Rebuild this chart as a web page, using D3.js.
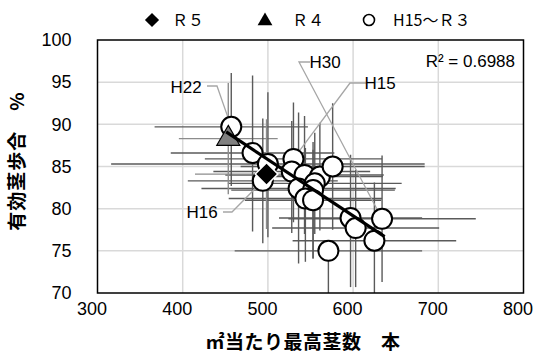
<!DOCTYPE html>
<html><head><meta charset="utf-8">
<script src="https://cdn.jsdelivr.net/npm/d3@7"></script>
<style>body{margin:0;background:#fff}svg{display:block}</style>
</head><body><svg id="c" width="535" height="356"></svg>
<script>
// ---- data ----
const years = ["H15","H16","H17","H18","H19","H20","H21","H22","H23","H24","H25","H26","H27","H28","H29","H30","R1","R2","R3"];
const stems = [530,494,482,528,543,536,561,457,555,553,544,553,576,597,603,634,625,571,500];
const ratio = [85.9,83.3,86.6,84.4,84.0,82.4,83.8,89.7,83.0,82.2,81.2,81.0,85.0,78.9,77.7,78.8,76.2,75.0,85.3];
const stemErrMinus = [104,88,96,92,93,114,74,90,102,96,90,80,108,84,98,110,96,110,184];
const stemErrPlus  = [104,88,96,92,93,114,74,90,102,96,90,80,108,84,98,110,96,110,184];
const ratioErrMinus = [7.5,7.4,9.3,7.3,7,8.9,6.4,7,6,8.1,7.5,6.9,7.5,8.2,7,7.5,6.9,6,8.7];
const ratioErrPlus  = [6.7,7.4,9.2,6,7,9,6.4,6.4,6,5.7,6,6,7.5,7.5,6.9,7.5,6.9,0,8.5];
const r4 = {stem:453.5, ratio:88.3, sm:58, sp:58, rm:6.6, rp:6.6};
const r5 = {stem:498.4, ratio:84.1, sm:84, sp:84, rm:6.5, rp:6.5};
const labeled = ["H22","H30","H15","H16"];
const xTicks = [300,400,500,600,700,800];
const yTicks = [70,75,80,85,90,95,100];
const trendSlope = -0.0668, trendIntercept = 119.23, trendRange = [451,637];
const r2Text = "R² = 0.6988";

// ---- layout ----
const svg = d3.select("#c");
const L=97.5, R=523.5, T=40, B=293;
const x = d3.scaleLinear().domain([300,800]).range([L,R]);
const y = d3.scaleLinear().domain([70,100]).range([B,T]);

// gridlines
const g = svg.append("g");
g.selectAll(".vg").data(xTicks.slice(1,-1)).enter().append("line")
  .attr("x1",d=>x(d)).attr("x2",d=>x(d)).attr("y1",T).attr("y2",B)
  .attr("stroke","#d9d9d9").attr("stroke-width",1.5);
g.selectAll(".hg").data(yTicks.slice(1,-1)).enter().append("line")
  .attr("y1",d=>y(d)).attr("y2",d=>y(d)).attr("x1",L).attr("x2",R)
  .attr("stroke","#d9d9d9").attr("stroke-width",1.5);

// axes labels via d3 axes
const xAxis = svg.append("g").attr("transform",`translate(-6,${B})`)
  .call(d3.axisBottom(x).tickValues(xTicks).tickSize(0).tickPadding(9));
xAxis.select(".domain").remove();
xAxis.selectAll("text").attr("font-family","'Liberation Sans', Arial, sans-serif").attr("font-size",18).attr("fill","#000");
const yAxis = svg.append("g").attr("transform",`translate(${L-26},0)`)
  .call(d3.axisLeft(y).tickValues(yTicks).tickSize(0).tickPadding(0));
yAxis.select(".domain").remove();
yAxis.selectAll("text").attr("font-family","'Liberation Sans', Arial, sans-serif").attr("font-size",18).attr("fill","#000");

// clip for error bars
svg.append("clipPath").attr("id","pc").append("rect").attr("x",L).attr("y",T).attr("width",R-L).attr("height",B-T);
const eb = svg.append("g").attr("clip-path","url(#pc)");
const pts = years.map((yr,i)=>({yr, sx:stems[i], ry:ratio[i], sm:stemErrMinus[i], sp:stemErrPlus[i], rm:ratioErrMinus[i], rp:ratioErrPlus[i]}));
const allPts = pts.concat([{yr:"R4",sx:r4.stem,ry:r4.ratio,sm:r4.sm,sp:r4.sp,rm:r4.rm,rp:r4.rp},{yr:"R5",sx:r5.stem,ry:r5.ratio,sm:r5.sm,sp:r5.sp,rm:r5.rm,rp:r5.rp}]);
const ebColor = d=>(d.yr==="R4"||d.yr==="R5")?"#8c8c8c":"#5a5a5a";
eb.selectAll(".eh").data(allPts).enter().append("line")
  .attr("x1",d=>x(d.sx-d.sm)).attr("x2",d=>x(d.sx+d.sp)).attr("y1",d=>y(d.ry)).attr("y2",d=>y(d.ry))
  .attr("stroke",ebColor).attr("stroke-width",1.4);
eb.selectAll(".ev").data(allPts).enter().append("line")
  .attr("x1",d=>x(d.sx)).attr("x2",d=>x(d.sx)).attr("y1",d=>y(d.ry-d.rm)).attr("y2",d=>y(d.ry+d.rp))
  .attr("stroke",ebColor).attr("stroke-width",1.4);

// leader lines for labels
const byYr = Object.fromEntries(pts.map(p=>[p.yr,p]));
const labelPos = {
  H22:{tx:186,ty:87,path:[[207,86],[217,86]]},
  H30:{tx:325,ty:62,path:[[310,62],[299,62]]},
  H15:{tx:380,ty:83,path:[[366,83],[350,83]]},
  H16:{tx:202,ty:212,path:[[223,212],[232,212]]}
};
labeled.forEach(k=>{
  const p = byYr[k], lp = labelPos[k];
  const pathPts = lp.path.concat([[x(p.sx),y(p.ry)]]);
  svg.append("path").attr("d",d3.line()(pathPts)).attr("fill","none").attr("stroke","#a6a6a6").attr("stroke-width",1.3);
});

// circles
svg.append("g").selectAll("circle").data(pts).enter().append("circle")
  .attr("cx",d=>x(d.sx)).attr("cy",d=>y(d.ry)).attr("r",10)
  .attr("fill","#fff").attr("stroke","#000").attr("stroke-width",2);
// R4 triangle
const tri = d3.symbol().type(d3.symbolTriangle).size(230);
svg.append("path").attr("d",tri()).attr("transform",`translate(${x(r4.stem)},${y(r4.ratio)})`)
  .attr("fill","#808080").attr("stroke","#000").attr("stroke-width",1.2);
// R5 diamond
svg.append("rect").attr("x",-8).attr("y",-8).attr("width",16).attr("height",16)
  .attr("transform",`translate(${x(r5.stem)},${y(r5.ratio)}) rotate(45)`)
  .attr("fill","#000").attr("stroke","#fff").attr("stroke-width",1.5);

// trendline
svg.append("line").attr("x1",x(trendRange[0])).attr("x2",x(trendRange[1]))
  .attr("y1",y(trendIntercept+trendSlope*trendRange[0])).attr("y2",y(trendIntercept+trendSlope*trendRange[1]))
  .attr("stroke","#000").attr("stroke-width",3.2);

// labels
labeled.forEach(k=>{
  const lp = labelPos[k];
  svg.append("text").attr("x",lp.tx).attr("y",lp.ty).attr("dy","0.36em").attr("text-anchor","middle")
    .attr("font-family","'Liberation Sans', Arial, sans-serif").attr("font-size",17).text(k);
});

// frame
svg.append("rect").attr("x",L).attr("y",T).attr("width",R-L).attr("height",B-T)
  .attr("fill","none").attr("stroke","#000").attr("stroke-width",1.5);

// R2
svg.append("text").attr("x",515).attr("y",61).attr("dy","0.36em").attr("text-anchor","end")
  .attr("font-family","'Liberation Sans Narrow','Liberation Sans',sans-serif").attr("font-size",17).text(r2Text);

// axis titles
svg.append("text").attr("x",303).attr("y",342).attr("dy","0.36em").attr("text-anchor","middle")
  .attr("font-family","'Noto Sans CJK JP',sans-serif").attr("font-size",19).attr("font-weight","bold")
  .attr("letter-spacing",0.5).text("㎡当たり最高茎数　本");
svg.append("text").attr("transform","translate(17,161) rotate(-90)").attr("dy","0.36em").attr("text-anchor","middle")
  .attr("font-family","'Noto Sans CJK JP',sans-serif").attr("font-size",19).attr("font-weight","bold")
  .attr("letter-spacing",1).text("有効茎歩合　%");

// legend
const lg = svg.append("g").attr("font-family","'Noto Sans CJK JP',sans-serif").attr("font-size",16);
lg.append("rect").attr("x",-5).attr("y",-5).attr("width",10).attr("height",10).attr("transform","translate(152,20) rotate(45)").attr("fill","#000");
lg.append("text").attr("x",172).attr("y",20).attr("dy","0.36em").text("Ｒ５");
lg.append("path").attr("d",d3.symbol().type(d3.symbolTriangle).size(95)()).attr("transform","translate(265,21)").attr("fill","#000");
lg.append("text").attr("x",292).attr("y",20).attr("dy","0.36em").text("Ｒ４");
lg.append("circle").attr("cx",369).attr("cy",20).attr("r",5.5).attr("fill","none").attr("stroke","#000").attr("stroke-width",1.6);
lg.append("text").attr("x",393).attr("y",20).attr("dy","0.36em").text("H15～Ｒ３");
</script></body></html>
